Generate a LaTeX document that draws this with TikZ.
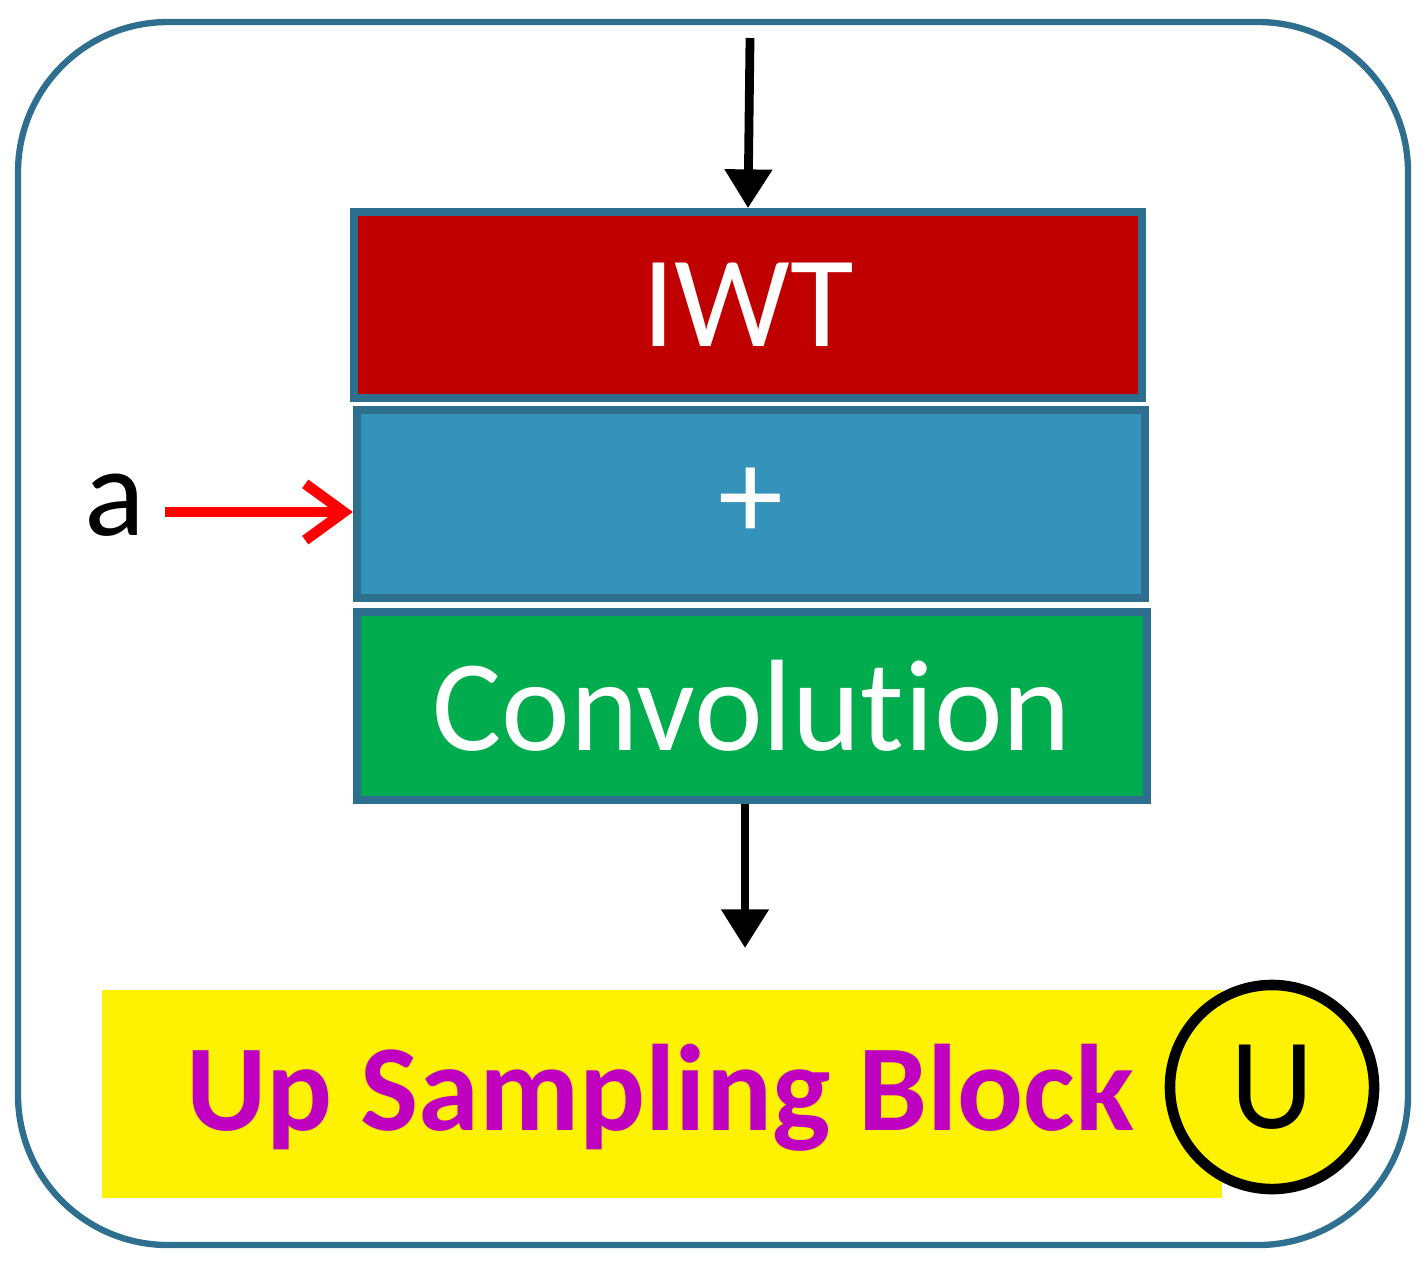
\documentclass[tikz,border=0pt]{standalone}
\usepackage{fontspec}
\setmainfont{Carlito}[Ligatures={NoCommon}]
\usetikzlibrary{arrows.meta}
\definecolor{frame}{HTML}{2E6E8E}
\definecolor{iwt}{HTML}{C00000}
\definecolor{plus}{HTML}{3592BA}
\definecolor{conv}{HTML}{00AC4E}
\definecolor{mag}{HTML}{C000C0}
\begin{document}
\begin{tikzpicture}[x=0.01cm,y=-0.01cm,
  blk/.style={draw=frame,line width=2.2pt,text=white,inner sep=0pt},
  arr/.style={line width=2.5pt,-{Triangle[length=11pt,width=13pt]}}]
\useasboundingbox (0,0) rectangle (1422,1266);
\draw[frame,line width=1.8pt,rounded corners=1.5cm] (18,22) rectangle (1408,1245);
\node[blk,fill=iwt,minimum width=7.87cm,minimum height=1.86cm,font=\fontsize{37}{40}\selectfont] (iwt) at (748,305) {IWT};
\node[blk,fill=plus,minimum width=7.88cm,minimum height=1.88cm,font=\fontsize{37}{40}\selectfont] (pl) at (751,504) {+};
\node[blk,fill=conv,minimum width=7.90cm,minimum height=1.88cm,font=\fontsize{37}{40}\selectfont] (cv) at (752,706) {Convolution};
\coordinate (tin) at (750,38);
\draw[arr] (tin) -- (iwt.north);
\coordinate (bout) at (745,948);
\draw[arr] (cv.south -| bout) -- (bout);
\node[font=\fontsize{36}{38}\selectfont] (a) at (115,505) {a};
\draw[red,line width=3pt,-{Straight Barb[length=11pt,width=16pt]}] (165,512) -- (pl.west |- 0,512);
\fill[yellow] (102,990) rectangle (1222,1198);
\node[text=mag,font=\bfseries\fontsize{35}{40}\selectfont] (t) at (660,1098) {Up Sampling Block};
\node[draw=black,fill=yellow,line width=3pt,circle,minimum size=2.04cm,inner sep=0pt,font=\fontsize{37}{40}\selectfont] (u) at (1272,1087) {U};
\end{tikzpicture}
\end{document}
